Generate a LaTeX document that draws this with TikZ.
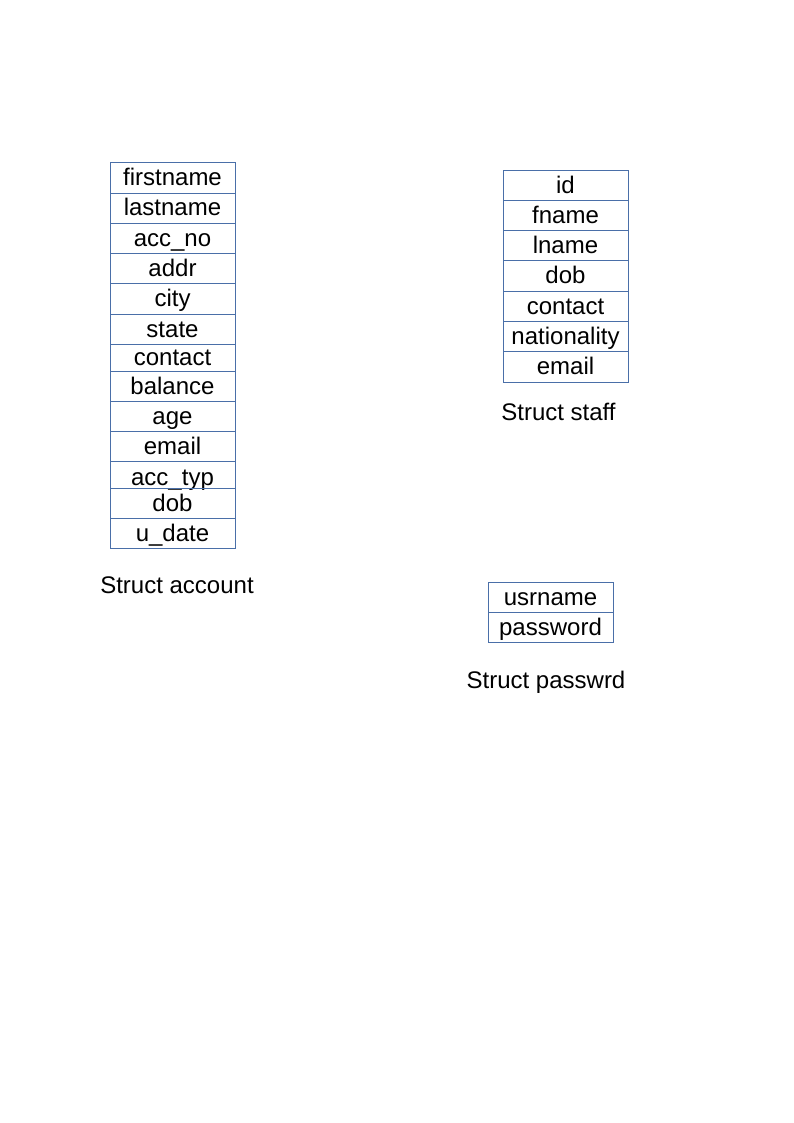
\documentclass[tikz,border=0pt]{standalone}
\usepackage{fontspec}
\setmainfont{Liberation Sans}
\definecolor{cellline}{HTML}{4A6FA8}
\begin{document}
\begin{tikzpicture}[x=1pt,y=-1pt,
  cell/.style={draw=cellline, line width=0.9pt, inner sep=0pt, minimum width=125pt,
    text height=20pt, text depth=4pt, font=\fontsize{24}{28}\selectfont},
  caption/.style={anchor=base, inner sep=0pt, font=\fontsize{24}{28}\selectfont}]
\useasboundingbox[fill=white] (0,0) rectangle (794,1123);
% Struct account
\node[cell, minimum height=30.5pt] (a1) at (172.5,177.75) {firstname};
\node[cell, minimum height=30pt] (a2) at (172.5,208) {lastname};
\node[cell, minimum height=30pt] (a3) at (172.5,238) {acc\_no};
\node[cell, minimum height=30.5pt] (a4) at (172.5,268.25) {addr};
\node[cell, minimum height=30.5pt] (a5) at (172.5,298.75) {city};
\node[cell, minimum height=30pt] (a6) at (172.5,329) {state};
\node[cell, minimum height=27pt] (a7) at (172.5,357.5) {contact};
\node[cell, minimum height=30pt] (a8) at (172.5,386) {balance};
\node[cell, minimum height=30pt] (a9) at (172.5,416) {age};
\node[cell, minimum height=30.5pt] (a10) at (172.5,446.25) {email};
\node[cell, minimum height=26.5pt, text height=23pt, text depth=2.5pt] (a11) at (172.5,474.75) {acc\_typ};
\node[cell, minimum height=30pt] (a12) at (172.5,503) {dob};
\node[cell, minimum height=30.5pt] (a13) at (172.5,533.25) {u\_date};
\node[caption] (acap) at (177,593) {Struct account};
% Struct staff
\node[cell, minimum height=30.5pt] (s1) at (565.5,185.25) {id};
\node[cell, minimum height=30pt] (s2) at (565.5,215.5) {fname};
\node[cell, minimum height=30pt] (s3) at (565.5,245.5) {lname};
\node[cell, minimum height=30.5pt] (s4) at (565.5,275.75) {dob};
\node[cell, minimum height=30.5pt] (s5) at (565.5,306.25) {contact};
\node[cell, minimum height=30pt] (s6) at (565.5,336.5) {nationality};
\node[cell, minimum height=30.5pt] (s7) at (565.5,366.75) {email};
\node[caption] (scap) at (558.5,420) {Struct staff};
% Struct passwrd
\node[cell, minimum height=30pt] (p1) at (550.5,597.5) {usrname};
\node[cell, minimum height=30pt] (p2) at (550.5,627.5) {password};
\node[caption] (pcap) at (546,688) {Struct passwrd};
\end{tikzpicture}
\end{document}
